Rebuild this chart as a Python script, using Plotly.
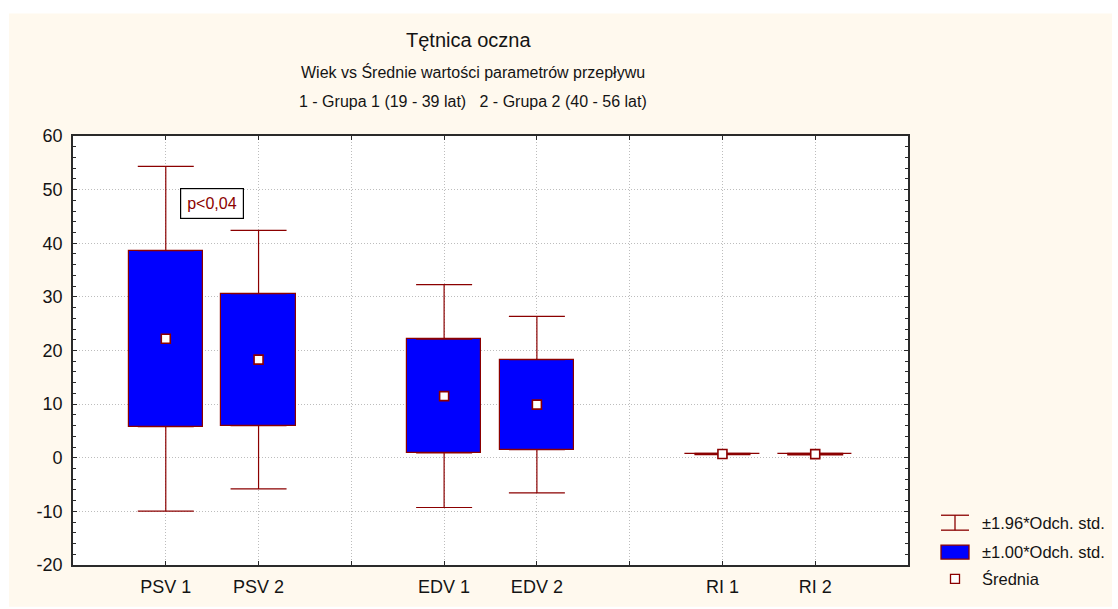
import plotly.graph_objects as go

# Flow parameters for the ophthalmic artery, two age groups
labels = ["PSV 1", "PSV 2", "EDV 1", "EDV 2", "RI 1", "RI 2"]
means = [22.2, 18.3, 11.5, 9.9, 0.70, 0.68]
sds = [16.4, 12.3, 10.6, 8.4, 0.07, 0.07]
box_k = 1.00      # box half-height in SD units
whisker_k = 1.96  # whisker half-length in SD units
y_ticks = [-20, -10, 0, 10, 20, 30, 40, 50, 60]

# each parameter occupies a group of two slots followed by an empty slot
x_pos = [3 * g + k + 1 for g in range(3) for k in range(2)]

BLUE = "#0000FF"
RED = "#8B0000"
FONT = "Liberation Sans, Arial, sans-serif"
INK = "#141414"

W, H = 1118, 609
L, R, T, B = 73, 908, 136, 567  # plot area in pixels


def px(x):
    return (x - L) / (R - L)


def py(y):
    return (B - y) / (B - T)


box_lo = [m - box_k * s for m, s in zip(means, sds)]
box_hi = [m + box_k * s for m, s in zip(means, sds)]
ext = [(whisker_k - box_k) * s for s in sds]

fig = go.Figure()

# boxes: mean ± 1 SD
fig.add_trace(go.Bar(
    x=x_pos, y=[h - l for l, h in zip(box_lo, box_hi)], base=box_lo,
    width=0.8, marker=dict(color=BLUE, line=dict(color=RED, width=1.2)),
    showlegend=False, hoverinfo="skip",
))

# whiskers: from the box edges out to mean ± 1.96 SD
invisible = dict(size=1, color="rgba(0,0,0,0)")
fig.add_trace(go.Scatter(
    x=x_pos, y=box_hi, mode="markers", marker=invisible,
    error_y=dict(type="data", symmetric=False, array=ext,
                 arrayminus=[0] * len(ext), color=RED, thickness=1.2, width=28),
    showlegend=False, hoverinfo="skip",
))
fig.add_trace(go.Scatter(
    x=x_pos, y=box_lo, mode="markers", marker=invisible,
    error_y=dict(type="data", symmetric=False, array=[0] * len(ext),
                 arrayminus=ext, color=RED, thickness=1.2, width=28),
    showlegend=False, hoverinfo="skip",
))

# means
fig.add_trace(go.Scatter(
    x=x_pos, y=means, mode="markers",
    marker=dict(symbol="square", size=9, color="white",
                line=dict(color=RED, width=1.6)),
    showlegend=False, hoverinfo="skip",
))

tick_text = [""] * 8
for x, lab in zip(x_pos, labels):
    tick_text[x - 1] = lab

grid = dict(showgrid=True, gridcolor="#bdbdbd", griddash="1px,2px", gridwidth=1)
frame = dict(showline=True, linecolor="#2a2a2a", linewidth=1.6, mirror="ticks",
             zeroline=False, ticks="inside", tickcolor="#2a2a2a")

fig.update_xaxes(
    range=[0, 9], tickmode="array", tickvals=list(range(1, 9)), ticktext=tick_text,
    ticklen=4, tickfont=dict(family=FONT, size=18, color=INK),
    ticklabelstandoff=5, **grid, **frame,
)
fig.update_yaxes(
    range=[-20, 60], tickmode="array", tickvals=y_ticks,
    ticktext=[str(v) for v in y_ticks], ticklen=4,
    tickfont=dict(family=FONT, size=18, color=INK),
    ticklabelstandoff=5,
    minor=dict(tickmode="linear", tick0=0, dtick=2, ticks="inside", ticklen=3,
               tickcolor="#2a2a2a", showgrid=False),
    **grid, **frame,
)

shapes = [
    # cream page
    dict(type="rect", xref="paper", yref="paper", layer="below",
         x0=px(9), x1=px(1112), y0=py(609), y1=py(13),
         fillcolor="#FFF9EE", line=dict(width=0)),
    # white plotting area
    dict(type="rect", xref="paper", yref="paper", layer="below",
         x0=0, x1=1, y0=0, y1=1, fillcolor="white", line=dict(width=0)),
]

# legend glyphs
ly1, ly2, ly3 = 525, 554, 581
lx0, lx1, lxc = 941, 969, 955
line_red = dict(color=RED, width=1.3)
shapes += [
    dict(type="line", xref="paper", yref="paper", x0=px(lx0), x1=px(lx1),
         y0=py(ly1 - 8), y1=py(ly1 - 8), line=line_red),
    dict(type="line", xref="paper", yref="paper", x0=px(lx0), x1=px(lx1),
         y0=py(ly1 + 7), y1=py(ly1 + 7), line=line_red),
    dict(type="line", xref="paper", yref="paper", x0=px(lxc), x1=px(lxc),
         y0=py(ly1 - 8), y1=py(ly1 + 7), line=line_red),
    dict(type="rect", xref="paper", yref="paper", x0=px(lx0), x1=px(lx1),
         y0=py(ly2 + 7), y1=py(ly2 - 7), fillcolor=BLUE, line=line_red),
    dict(type="rect", xref="paper", yref="paper", x0=px(lxc - 4.5), x1=px(lxc + 4.5),
         y0=py(ly3 + 4.5), y1=py(ly3 - 4.5), fillcolor="white", line=line_red),
]

legend_text = ["±1.96*Odch. std.", "±1.00*Odch. std.", "Średnia"]
annotations = []
for y, txt in zip([ly1, ly2, ly3], legend_text):
    annotations.append(dict(
        xref="paper", yref="paper", x=px(980), y=py(y), xanchor="left",
        yanchor="middle", text=txt, showarrow=False,
        font=dict(family=FONT, size=16.5, color=INK),
    ))

# titles
annotations += [
    dict(xref="paper", yref="paper", x=px(468), y=py(40), text="Tętnica oczna",
         showarrow=False, xanchor="center", yanchor="middle",
         font=dict(family=FONT, size=20, color=INK)),
    dict(xref="paper", yref="paper", x=px(473), y=py(72),
         text="Wiek vs Średnie wartości parametrów przepływu",
         showarrow=False, xanchor="center", yanchor="middle",
         font=dict(family=FONT, size=16, color=INK)),
    dict(xref="paper", yref="paper", x=px(473), y=py(101),
         text="1 - Grupa 1 (19 - 39 lat)   2 - Grupa 2 (40 - 56 lat)",
         showarrow=False, xanchor="center", yanchor="middle",
         font=dict(family=FONT, size=16, color=INK)),
]

# significance note between the PSV groups
annotations.append(dict(
    x=1.5, y=47.4, xref="x", yref="y", text="p<0,04", showarrow=False,
    font=dict(family=FONT, size=16, color=RED),
    bgcolor="white", bordercolor="black", borderwidth=1.2, borderpad=6,
))

fig.update_layout(
    width=W, height=H,
    margin=dict(l=L, r=W - R, t=T, b=H - B),
    paper_bgcolor="white", plot_bgcolor="rgba(0,0,0,0)",
    shapes=shapes, annotations=annotations, showlegend=False,
    bargap=0,
)

fig.write_html("out.html")
